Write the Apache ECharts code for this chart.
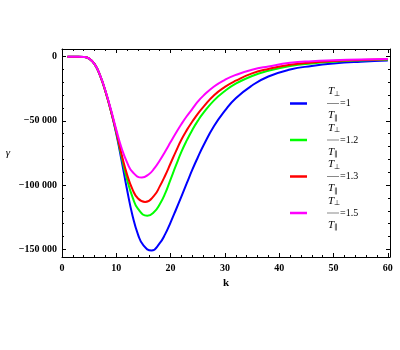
<!DOCTYPE html>
<html lang="en">
<head>
    <meta charset="UTF-8">
    <title>gamma vs k</title>
    <script src="https://cdn.jsdelivr.net/npm/echarts@6/dist/echarts.min.js"></script>
    <style>
        html, body { margin: 0; padding: 0; background: #fff; }
        #chart { width: 400px; height: 350px; }
    </style>
</head>
<body>
<div id="chart"></div>
<script>
    // k values and growth rates (each curve also has its minimum)
    var k1 = [1, 2, 3, 4, 5, 6, 7, 8, 9, 10, 11, 12, 13, 14, 15, 16.5, 18, 19, 20,
        21, 22, 23, 24, 25, 26, 28, 30, 32, 35, 38, 42, 46, 50, 55, 60];
    var gamma1 = [0, 0, 0, -200, -1500, -5800, -14500, -27000, -42000, -60000, -81500, -104000,
        -124000, -138500, -147000, -151000, -145200, -138200, -129000, -119000, -108700,
        -98300, -88000, -78500, -69500, -54000, -42000, -32300, -22400, -15400, -10000, -7200,
        -5300, -3900, -3000];
    var k12 = [1, 2, 3, 4, 5, 6, 7, 8, 9, 10, 11, 12, 13, 14, 15.7, 17, 18, 19, 20,
        21, 22, 23, 24, 25, 26, 28, 30, 32, 35, 38, 42, 46, 50, 55, 60];
    var gamma12 = [0, 0, 0, -200, -1500, -5800, -14500, -27000, -42000, -59000, -78500, -96000,
        -109500, -118500, -123900, -120800, -115000, -106500, -95500, -84500, -74000,
        -65000, -57000, -50000, -44000, -34000, -26700, -21000, -15000, -11000, -7300, -5200,
        -3900, -2900, -2300];
    var k13 = [1, 2, 3, 4, 5, 6, 7, 8, 9, 10, 11, 12, 13, 14, 15.3, 17, 18, 19, 20,
        21, 22, 23, 24, 25, 26, 28, 30, 32, 35, 38, 42, 46, 50, 55, 60];
    var gamma13 = [0, 0, 0, -200, -1500, -5800, -14500, -27000, -42000, -58500, -76500, -92000,
        -103500, -110500, -113200, -108000, -101000, -92500, -83000, -73500, -64500,
        -57000, -50500, -44500, -39300, -30000, -23500, -18700, -13000, -9500, -6300, -4500,
        -3400, -2600, -2000];
    var k15 = [1, 2, 3, 4, 5, 6, 7, 8, 9, 10, 11, 12, 13, 14.7, 16, 17, 18, 19, 20,
        21, 22, 23, 24, 25, 26, 28, 30, 32, 35, 38, 42, 46, 50, 55, 60];
    var gamma15 = [0, 0, 0, -200, -1500, -5800, -14300, -26500, -41000, -57000, -71500, -82500,
        -89800, -94100, -91500, -87000, -80800, -73800, -66500, -59200, -52400,
        -46200, -40600, -35000, -30500, -23200, -18000, -14200, -10200, -7600, -4800, -3500,
        -2800, -2200, -1800];
    var ratios = ['1', '1.2', '1.3', '1.5'];
    var xTicks = [0, 10, 20, 30, 40, 50, 60];
    var xMinor = [2, 4, 6, 8, 12, 14, 16, 18, 22, 24, 26, 28, 32, 34, 36, 38, 42, 44, 46, 48, 52, 54, 56, 58];
    var yTicks = [-150000, -100000, -50000, 0];
    var yMinor = [-140000, -130000, -120000, -110000, -90000, -80000, -70000, -60000,
        -40000, -30000, -20000, -10000];

    var colors = ['#0000ff', '#00ff00', '#ff0000', '#ff00ff'];
    var allK = [k1, k12, k13, k15];
    var allData = [gamma1, gamma12, gamma13, gamma15];

    function pairs(ks, ys) {
        return ks.map(function (k, i) { return [k, ys[i]]; });
    }

    var labelFont = {fontFamily: 'Liberation Serif', fontWeight: 'bold', fontSize: 10, color: '#000'};
    var X_MIN = 0, X_MAX = 60.4, Y_MIN = -156000, Y_MAX = 6000;

    function xAx(pos, ticks, len, showLine, showLabel) {
        return {
            type: 'value', position: pos, min: X_MIN, max: X_MAX,
            axisLine: {show: showLine, onZero: false, lineStyle: {color: '#000', width: 1}},
            axisTick: {show: true, inside: true, length: len, customValues: ticks, lineStyle: {color: '#000'}},
            axisLabel: showLabel ? Object.assign({show: true, margin: 6, customValues: ticks}, labelFont) : {show: false},
            splitLine: {show: false}
        };
    }
    function yAx(pos, ticks, len, showLine, showLabel) {
        return {
            type: 'value', position: pos, min: Y_MIN, max: Y_MAX,
            axisLine: {show: showLine, onZero: false, lineStyle: {color: '#000', width: 1}},
            axisTick: {show: true, inside: true, length: len, customValues: ticks, lineStyle: {color: '#000'}},
            axisLabel: showLabel ? Object.assign({
                show: true, margin: 5, customValues: ticks,
                formatter: function (v) {
                    if (v === 0) return '0';
                    var s = String(Math.abs(v));
                    return '\u2212' + s.slice(0, s.length - 3) + ' ' + s.slice(-3);
                }
            }, labelFont) : {show: false},
            splitLine: {show: false}
        };
    }

    var xAxes = [
        xAx('bottom', xTicks, 4, true, true),
        xAx('bottom', xMinor, 2, false, false),
        xAx('top', xTicks, 4, true, false),
        xAx('top', xMinor, 2, false, false)
    ];
    xAxes[0].name = 'k';
    xAxes[0].nameLocation = 'middle';
    xAxes[0].nameGap = 21;
    xAxes[0].nameTextStyle = {fontFamily: 'Liberation Serif', fontWeight: 'bold', fontSize: 11, color: '#000'};

    var yAxes = [
        yAx('left', yTicks, 4, true, true),
        yAx('left', yMinor, 2, false, false),
        yAx('right', yTicks, 4, true, false),
        yAx('right', yMinor, 2, false, false)
    ];
    yAxes[0].name = '\u03b3';
    yAxes[0].nameLocation = 'middle';
    yAxes[0].nameRotate = 0;
    yAxes[0].nameGap = 52;
    yAxes[0].nameTextStyle = {fontFamily: 'Liberation Serif', fontStyle: 'italic', fontSize: 11, color: '#000', padding: [8, 0, 0, 0]};

    var series = allData.map(function (ys, i) {
        return {
            name: ratios[i],
            type: 'line',
            smooth: 0.5,
            showSymbol: false,
            xAxisIndex: 0,
            yAxisIndex: 0,
            lineStyle: {color: colors[i], width: 2},
            itemStyle: {color: colors[i]},
            data: pairs(allK[i], ys)
        };
    });

    var myChart = echarts.init(document.getElementById('chart'));
    var option = {
        backgroundColor: '#fff',
        animation: false,
        grid: {left: 62, right: 10, top: 49, bottom: 93},
        xAxis: xAxes,
        yAxis: yAxes,
        legend: {
            orient: 'vertical',
            left: 290,
            top: 86,
            padding: 0,
            itemGap: 1,
            icon: 'rect',
            itemWidth: 17,
            itemHeight: 2.5,
            data: ratios,
            formatter: function (name) {
                return '{t|T}{s|\u22a5}\n{b| }{e|=' + name + '}\n{t|T}{s|\u2225}';
            },
            textStyle: {
                padding: [0, 0, 0, 15],
                rich: {
                    t: {fontFamily: 'Liberation Serif', fontStyle: 'italic', fontSize: 11, color: '#000', lineHeight: 12, padding: [0, 0, 0, 1]},
                    s: {fontFamily: 'DejaVu Sans', fontSize: 7, color: '#000', lineHeight: 12, verticalAlign: 'bottom'},
                    b: {width: 12, height: 1, backgroundColor: '#888', lineHeight: 12},
                    e: {fontFamily: 'Liberation Serif', fontSize: 10, color: '#000', lineHeight: 12, padding: [0, 0, 0, 1]}
                }
            }
        },
        series: series
    };
    myChart.setOption(option);
</script>
</body>
</html>
